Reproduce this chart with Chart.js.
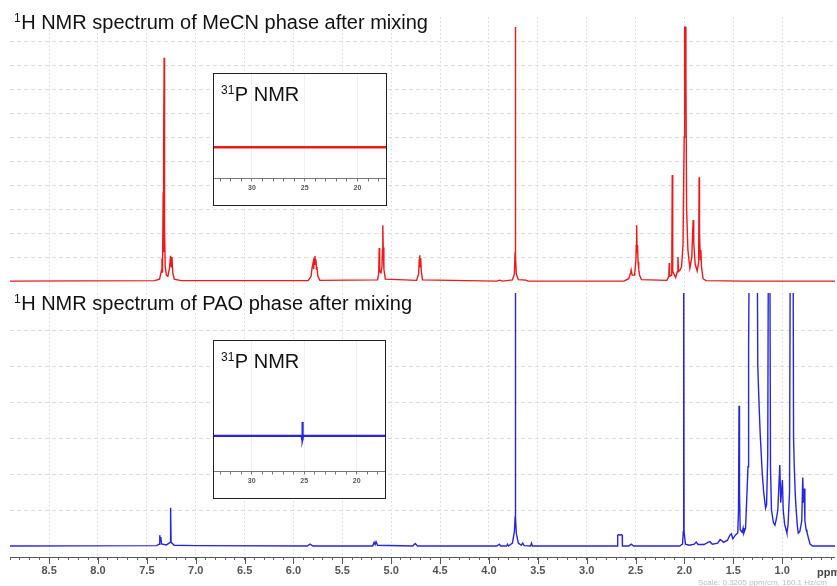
<!DOCTYPE html>
<html>
<head>
<meta charset="utf-8">
<script src="https://cdn.jsdelivr.net/npm/chart.js@4.4.1/dist/chart.umd.min.js"></script>
<style>
  body { margin: 0; background: #fff; }
  #wrap { position: relative; width: 837px; height: 586px; overflow: hidden; }
  .panel { position: absolute; left: 0; width: 837px; }
  #topBox { top: 0; height: 290px; }
  #botBox { top: 290px; height: 296px; }
  .inset { position: absolute; background: #fff; border: 1.5px solid #222; box-sizing: border-box; }
  #inset1 { left: 213px; top: 73px; width: 174px; height: 133px; }
  #inset2 { left: 213px; top: 340px; width: 173px; height: 159px; }
</style>
</head>
<body>
<div id="wrap">
  <div class="panel" id="topBox"><canvas id="topChart"></canvas></div>
  <div class="panel" id="botBox"><canvas id="botChart"></canvas></div>
  <div class="inset" id="inset1"><canvas id="p31Top"></canvas></div>
  <div class="inset" id="inset2"><canvas id="p31Bot"></canvas></div>
</div>
<script>
// 1H spectrum, MeCN phase (red) - ppm / intensity
const redPpm = [
  8.90, 7.42, 7.37, 7.35, 7.345, 7.34, 7.333, 7.33, 7.327, 7.323,
  7.319, 7.312, 7.30, 7.285, 7.268, 7.258, 7.25, 7.243, 7.235, 7.22,
  7.15, 5.85, 5.82, 5.81, 5.80, 5.795, 5.79, 5.785, 5.78, 5.775,
  5.77, 5.765, 5.76, 5.75, 5.73, 5.14, 5.128, 5.123, 5.118, 5.105,
  5.095, 5.09, 5.086, 5.082, 5.075, 5.06, 4.74, 4.72, 4.713, 4.708,
  4.703, 4.698, 4.692, 4.68, 3.92, 3.89, 3.86, 3.76, 3.74, 3.733,
  3.73, 3.727, 3.72, 3.70, 3.62, 3.60, 2.62, 2.57, 2.55, 2.545,
  2.535, 2.51, 2.497, 2.493, 2.489, 2.485, 2.48, 2.475, 2.468, 2.46,
  2.44, 2.18, 2.16, 2.156, 2.152, 2.13, 2.125, 2.12, 2.09, 2.072,
  2.067, 2.06, 2.045, 2.03, 2.015, 2.003, 1.998, 1.99, 1.985, 1.978,
  1.965, 1.945, 1.925, 1.915, 1.911, 1.905, 1.89, 1.87, 1.855, 1.85,
  1.846, 1.838, 1.832, 1.826, 1.81, 1.78, 1.40, 0.46
];
const redInt = [
  0, 0.02, 0.08, 0.45, 0.95, 0.35, 3.7, 1.2, 5.6, 9.3,
  2.2, 0.6, 0.25, 0.2, 0.55, 1.05, 0.6, 1.0, 0.35, 0.08,
  0.02, 0.02, 0.2, 0.55, 0.75, 0.5, 0.95, 0.7, 1.05, 0.75,
  0.9, 0.5, 0.6, 0.2, 0.03, 0.05, 0.3, 1.38, 0.4, 0.35,
  0.6, 1.3, 2.33, 1.4, 0.5, 0.08, 0.03, 0.3, 0.9, 1.08,
  0.6, 0.95, 0.4, 0.05, 0, 0.04, 0, 0.05, 0.3, 1.2,
  10.58, 1.0, 0.3, 0.06, 0.04, 0, 0, 0.1, 0.35, 0.46,
  0.25, 0.25, 0.87, 1.5, 2.33, 1.2, 1.5, 0.8, 0.5, 0.25,
  0.06, 0.03, 0.2, 0.75, 0.2, 0.25, 4.42, 0.4, 0.15, 0.4,
  1.0, 0.4, 0.46, 0.6, 1.5, 6.0, 10.58, 10.58, 8.4, 3.0,
  1.3, 0.54, 1.0, 2.2, 2.54, 1.6, 0.7, 0.42, 0.8, 4.33,
  2.0, 0.9, 1.29, 0.6, 0.1, 0.02, 0, 0
];

// 1H spectrum, PAO phase (blue)
const bluePpm = [
  8.90, 7.40, 7.375, 7.368, 7.362, 7.357, 7.35, 7.30, 7.262, 7.257,
  7.252, 7.22, 7.0, 5.86, 5.83, 5.80, 5.19, 5.175, 5.165, 5.155,
  5.14, 4.78, 4.755, 4.73, 3.92, 3.895, 3.88, 3.82, 3.81, 3.80,
  3.76, 3.74, 3.733, 3.73, 3.727, 3.72, 3.70, 3.67, 3.655, 3.64,
  3.575, 3.565, 3.555, 2.72, 2.685, 2.683, 2.675, 2.66, 2.645, 2.637,
  2.635, 2.57, 2.545, 2.52, 2.05, 2.02, 2.012, 2.008, 2.004, 1.99,
  1.95, 1.90, 1.88, 1.86, 1.80, 1.76, 1.74, 1.715, 1.66, 1.635,
  1.62, 1.60, 1.56, 1.535, 1.52, 1.505, 1.48, 1.455, 1.447, 1.442,
  1.437, 1.43, 1.41, 1.40, 1.393, 1.375, 1.36, 1.35, 1.348, 1.34,
  1.333, 1.27, 1.258, 1.25, 1.235, 1.225, 1.205, 1.19, 1.17, 1.16,
  1.148, 1.14, 1.128, 1.12, 1.11, 1.09, 1.075, 1.06, 1.045, 1.025,
  1.015, 1.008, 0.998, 0.99, 0.975, 0.96, 0.952, 0.94, 0.925, 0.916,
  0.89, 0.884, 0.877, 0.866, 0.857, 0.845, 0.836, 0.82, 0.80, 0.79,
  0.783, 0.776, 0.768, 0.755, 0.747, 0.73, 0.715, 0.69, 0.46
];
const blueInt = [
  0, 0.01, 0.05, 0.3, 0.15, 0.25, 0.06, 0.03, 0.1, 1.06,
  0.1, 0.02, 0.01, 0, 0.05, 0, 0, 0.1, 0.04, 0.12,
  0.02, 0, 0.07, 0, 0, 0.05, 0, 0, 0.05, 0,
  0.08, 0.4, 0.8, 10, 0.8, 0.35, 0.08, 0.02, 0.08, 0.01,
  0, 0.08, 0, 0, 0, 0.3, 0.32, 0.3, 0.32, 0.3,
  0, 0, 0.05, 0, 0, 0.05, 0.4, 10, 0.4, 0.05,
  0.02, 0.05, 0.11, 0.04, 0.04, 0.1, 0.12, 0.05, 0.08, 0.18,
  0.15, 0.1, 0.16, 0.3, 0.34, 0.2, 0.3, 0.36, 1.0, 3.9,
  1.5, 0.45, 0.38, 0.5, 0.36, 0.5, 1.5, 2.2, 4.67, 5.5,
  10, 10, 10, 5.0, 3.8, 3.1, 2.05, 1.5, 1.05, 1.15,
  2.5, 10, 10, 2.2, 1.0, 0.65, 0.58, 0.75, 1.0, 2.25,
  1.2, 1.5, 1.83, 1.0, 0.6, 0.45, 0.36, 0.6, 1.5, 10,
  10, 3.0, 2.25, 1.4, 1.0, 0.55, 0.36, 0.4, 0.7, 1.9,
  1.2, 1.6, 0.7, 0.45, 0.39, 0.2, 0.05, 0, 0
];

// 31P insets
const p31TopPpm = [33.6, 17.3];
const p31TopInt = [0, 0];
const p31BotPpm = [33.6, 25.25, 25.2, 25.17, 25.14, 25.1, 17.3];
const p31BotInt = [0, 0, -0.25, 1.07, -0.2, 0, 0];

const mainTicks = [8.5, 8.0, 7.5, 7.0, 6.5, 6.0, 5.5, 5.0, 4.5, 4.0, 3.5, 3.0, 2.5, 2.0, 1.5, 1.0];
const insetTicks = [30, 25, 20];

const X_MIN = 0.46, X_MAX = 8.9;
const RED = '#f01818';
const BLUE = '#2626e2';
const FONT = 'Arial, "Liberation Sans", sans-serif';

Chart.defaults.font.family = FONT;

const toPoints = (xs, ys) => xs.map((x, i) => ({ x: x, y: ys[i] }));
const isMajor = v => mainTicks.some(t => Math.abs(t - v) < 1e-6);

function supText(ctx, sup, text, x, y, size, supSize) {
  ctx.fillStyle = '#111';
  ctx.textAlign = 'left';
  ctx.textBaseline = 'alphabetic';
  ctx.font = supSize + 'px ' + FONT;
  ctx.fillText(sup, x, y - size * 0.36);
  const w = ctx.measureText(sup).width;
  ctx.font = size + 'px ' + FONT;
  ctx.fillText(text, x + w + 0.5, y);
}

const titlePlugin = (id, text) => ({
  id: id,
  afterDraw(chart) {
    const ctx = chart.ctx;
    ctx.save();
    supText(ctx, '1', text, 14, id === 'titleTop' ? 29 : 20, 20, 12);
    ctx.restore();
  }
});

// main ppm axis: axis line, long major ticks, "ppm" and the scale note
const ppmAxis = {
  id: 'ppmAxis',
  afterDraw(chart) {
    const { ctx, scales: { x } } = chart;
    ctx.save();
    ctx.strokeStyle = '#555';
    ctx.lineWidth = 1;
    ctx.beginPath();
    ctx.moveTo(x.left, x.top + 0.5);
    ctx.lineTo(x.right, x.top + 0.5);
    mainTicks.forEach(v => {
      const px = Math.round(x.getPixelForValue(v)) + 0.5;
      ctx.moveTo(px, x.top);
      ctx.lineTo(px, x.top + 7);
    });
    ctx.stroke();
    ctx.fillStyle = '#444';
    ctx.font = 'bold 11px ' + FONT;
    ctx.textBaseline = 'middle';
    ctx.textAlign = 'left';
    ctx.fillText('ppm', 817, x.top + 16);
    ctx.fillStyle = '#bdbdbd';
    ctx.font = '8px ' + FONT;
    ctx.textBaseline = 'alphabetic';
    ctx.fillText('Scale: 0.3205 ppm/cm, 160.1 Hz/cm', 698, 295);
    ctx.restore();
  }
};

const insetTitle = {
  id: 'insetTitle',
  afterDraw(chart) {
    const ctx = chart.ctx;
    ctx.save();
    supText(ctx, '31', 'P NMR', 7, 27, 20, 12);
    ctx.restore();
  }
};

function spectrumOptions(yMin, yMax, hasAxis, padTop) {
  return {
    animation: false,
    responsive: true,
    maintainAspectRatio: false,
    layout: { padding: { left: 10, right: 2, top: padTop, bottom: 0 } },
    plugins: { legend: { display: false }, tooltip: { enabled: false }, title: { display: false } },
    scales: {
      x: {
        type: 'linear', reverse: true, min: X_MIN, max: X_MAX,
        afterFit: s => { s.height = hasAxis ? 29 : 0; },
        ticks: hasAxis ? {
          stepSize: 0.1, autoSkip: false, includeBounds: false, maxRotation: 0,
          padding: 4, color: '#555', font: { size: 11, weight: 'bold' },
          callback: v => isMajor(v) ? v.toFixed(1) : ''
        } : { display: false, stepSize: 0.5, includeBounds: false },
        grid: {
          color: c => isMajor(c.tick.value) ? '#e2e2e2' : 'rgba(0,0,0,0)',
          drawTicks: hasAxis, tickColor: '#666', tickLength: 3
        },
        border: { display: false, dash: [2, 2] }
      },
      y: {
        min: yMin, max: yMax,
        afterFit: s => { s.width = 0; },
        ticks: { display: false, stepSize: 1, includeBounds: false },
        grid: {
          drawTicks: false,
          color: c => (c.tick.value > 0.5 && c.tick.value < yMax - 0.5) ? '#dcdcdc' : 'rgba(0,0,0,0)'
        },
        border: { display: false, dash: [4, 3] }
      }
    }
  };
}

new Chart(document.getElementById('topChart'), {
  type: 'line',
  data: { datasets: [{ data: toPoints(redPpm, redInt), borderColor: RED, borderWidth: 1.4, pointRadius: 0, tension: 0 }] },
  options: spectrumOptions(-0.37, 11, false, 17),
  plugins: [titlePlugin('titleTop', 'H NMR spectrum of MeCN phase after mixing')]
});

new Chart(document.getElementById('botChart'), {
  type: 'line',
  data: { datasets: [{ data: toPoints(bluePpm, blueInt), borderColor: BLUE, borderWidth: 1.4, pointRadius: 0, tension: 0 }] },
  options: spectrumOptions(-0.306, 7.03, true, 3),
  plugins: [titlePlugin('titleBot', 'H NMR spectrum of PAO phase after mixing'), ppmAxis]
});

function insetOptions(yMin, yMax) {
  return {
    animation: false,
    responsive: true,
    maintainAspectRatio: false,
    layout: { padding: 0 },
    plugins: { legend: { display: false }, tooltip: { enabled: false } },
    scales: {
      x: {
        type: 'linear', reverse: true, min: 17.3, max: 33.6,
        afterFit: s => { s.height = 26.5; },
        ticks: {
          stepSize: 1, autoSkip: false, includeBounds: false, maxRotation: 0,
          padding: 2, color: '#555', font: { size: 7, weight: 'bold' },
          callback: v => insetTicks.includes(Math.round(v)) && Math.abs(v - Math.round(v)) < 1e-6 ? String(Math.round(v)) : ''
        },
        grid: {
          color: c => insetTicks.includes(Math.round(c.tick.value)) ? '#efefef' : 'rgba(0,0,0,0)',
          tickColor: '#777', tickLength: 3
        },
        border: { display: true, color: '#777', width: 1 }
      },
      y: {
        min: yMin, max: yMax,
        afterFit: s => { s.width = 0; },
        ticks: { display: false, stepSize: 2.5 },
        grid: { drawTicks: false, color: 'rgba(0,0,0,0)' },
        border: { display: false }
      }
    }
  };
}

new Chart(document.getElementById('p31Top'), {
  type: 'line',
  data: { datasets: [{ data: toPoints(p31TopPpm, p31TopInt), borderColor: RED, borderWidth: 2.5, pointRadius: 0, tension: 0 }] },
  options: insetOptions(-3, 7),
  plugins: [insetTitle]
});

new Chart(document.getElementById('p31Bot'), {
  type: 'line',
  data: { datasets: [{ data: toPoints(p31BotPpm, p31BotInt), borderColor: BLUE, borderWidth: 2.2, pointRadius: 0, tension: 0 }] },
  options: insetOptions(-2.73, 7.27),
  plugins: [insetTitle]
});
</script>
</body>
</html>
